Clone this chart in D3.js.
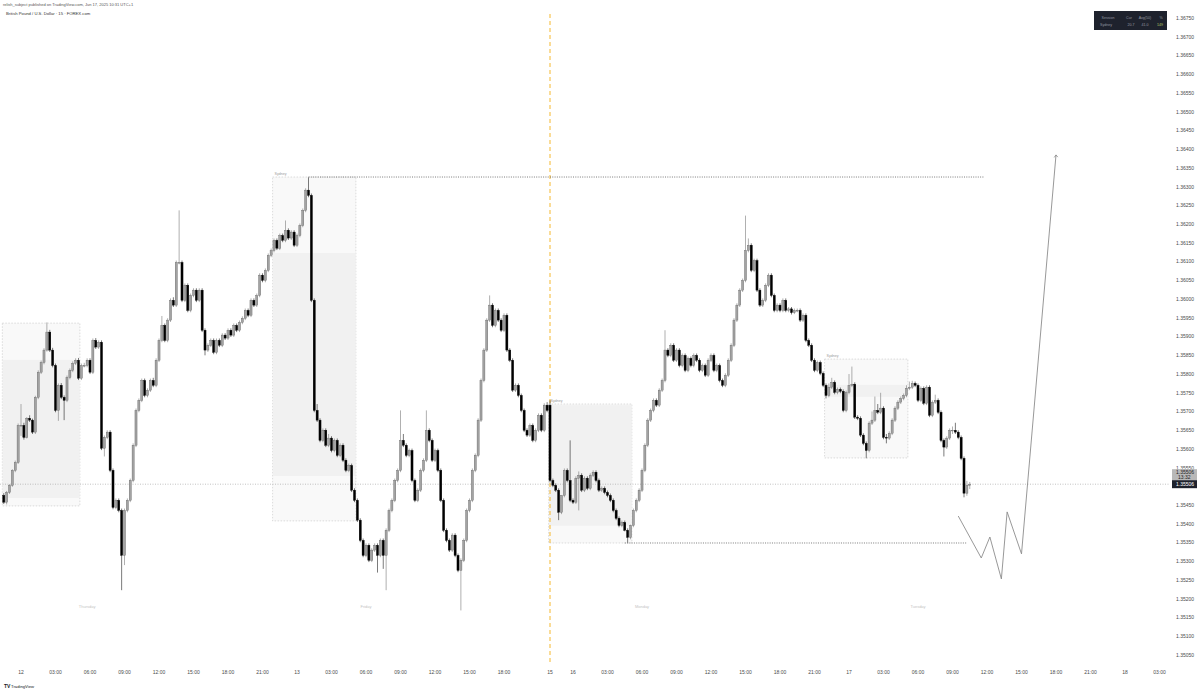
<!DOCTYPE html>
<html><head><meta charset="utf-8">
<script src="https://cdn.jsdelivr.net/npm/d3@7"></script>
<style>body{margin:0;background:#fff}svg{display:block}text{font-family:"Liberation Sans",Arial,sans-serif}</style>
</head><body><svg id="c" width="1200" height="692"></svg>
<script>
// ---------- DATA ----------
const title1 = "relish_subject published on TradingView.com, Jun 17, 2025 10:31 UTC+1";
const title2 = "British Pound / U.S. Dollar · 15 · FOREX.com";
const priceTicks = ["1.35050","1.35100","1.35150","1.35200","1.35250","1.35300","1.35350","1.35400","1.35450","1.35500","1.35550","1.35600","1.35650","1.35700","1.35750","1.35800","1.35850","1.35900","1.35950","1.36000","1.36050","1.36100","1.36150","1.36200","1.36250","1.36300","1.36350","1.36400","1.36450","1.36500","1.36550","1.36600","1.36650","1.36700","1.36750"];
const timeTickTimes = ["2025-06-12T00:00","2025-06-12T03:00","2025-06-12T06:00","2025-06-12T09:00","2025-06-12T12:00","2025-06-12T15:00","2025-06-12T18:00","2025-06-12T21:00","2025-06-13T00:00","2025-06-13T03:00","2025-06-13T06:00","2025-06-13T09:00","2025-06-13T12:00","2025-06-13T15:00","2025-06-13T18:00","2025-06-15T22:00","2025-06-16T00:00","2025-06-16T03:00","2025-06-16T06:00","2025-06-16T09:00","2025-06-16T12:00","2025-06-16T15:00","2025-06-16T18:00","2025-06-16T21:00","2025-06-17T00:00","2025-06-17T03:00","2025-06-17T06:00","2025-06-17T09:00","2025-06-17T12:00","2025-06-17T15:00","2025-06-17T18:00","2025-06-17T21:00","2025-06-18T00:00","2025-06-18T03:00"];
const timeTickLabels = ["12","03:00","06:00","09:00","12:00","15:00","18:00","21:00","13","03:00","06:00","09:00","12:00","15:00","18:00","15","16","03:00","06:00","09:00","12:00","15:00","18:00","21:00","17","03:00","06:00","09:00","12:00","15:00","18:00","21:00","18","03:00"];
const dayLabels = ["Thursday","Friday","Monday","Tuesday"];
const dayLabelTimes = ["2025-06-12T05:45","2025-06-13T06:00","2025-06-16T06:00","2025-06-17T06:00"];

// 15-minute candles [open, high, low, close]
const firstBarA = "2025-06-11T22:30"; // Thu 12 – Fri 13
const candlesA = [
[1.35476,1.35482,1.35453,1.35458],[1.35458,1.35488,1.35452,1.35484],[1.35484,1.35506,1.35480,1.35503],[1.35503,1.35546,1.35499,1.35543],[1.35543,1.35569,1.35538,1.35564],
[1.35564,1.35668,1.35560,1.35663],[1.35663,1.35720,1.35635,1.35663],[1.35663,1.35670,1.35625,1.35631],[1.35631,1.35685,1.35628,1.35682],[1.35682,1.35690,1.35672,1.35677],
[1.35677,1.35681,1.35640,1.35645],[1.35645,1.35742,1.35640,1.35738],[1.35738,1.35810,1.35733,1.35805],[1.35805,1.35836,1.35800,1.35831],[1.35831,1.35869,1.35826,1.35864],
[1.35864,1.35938,1.35860,1.35912],[1.35912,1.35918,1.35859,1.35864],[1.35864,1.35870,1.35818,1.35823],[1.35823,1.35828,1.35698,1.35703],[1.35703,1.35775,1.35675,1.35770],
[1.35770,1.35776,1.35733,1.35738],[1.35738,1.35743,1.35677,1.35730],[1.35730,1.35796,1.35725,1.35791],[1.35791,1.35815,1.35786,1.35810],[1.35810,1.35834,1.35805,1.35829],
[1.35829,1.35842,1.35824,1.35837],[1.35837,1.35843,1.35784,1.35789],[1.35789,1.35828,1.35784,1.35823],[1.35823,1.35830,1.35818,1.35823],[1.35823,1.35842,1.35818,1.35837],
[1.35837,1.35842,1.35800,1.35805],[1.35805,1.35895,1.35800,1.35890],[1.35890,1.35896,1.35867,1.35872],[1.35872,1.35890,1.35867,1.35885],[1.35885,1.35890,1.35597,1.35602],
[1.35602,1.35636,1.35580,1.35631],[1.35631,1.35650,1.35626,1.35645],[1.35645,1.35650,1.35538,1.35543],[1.35543,1.35548,1.35439,1.35444],[1.35444,1.35468,1.35439,1.35463],
[1.35463,1.35468,1.35431,1.35436],[1.35436,1.35441,1.35223,1.35316],[1.35316,1.35441,1.35290,1.35436],[1.35436,1.35468,1.35431,1.35463],[1.35463,1.35521,1.35458,1.35516],
[1.35516,1.35615,1.35511,1.35610],[1.35610,1.35708,1.35605,1.35703],[1.35703,1.35735,1.35698,1.35730],[1.35730,1.35788,1.35725,1.35783],[1.35783,1.35788,1.35738,1.35743],
[1.35743,1.35762,1.35738,1.35757],[1.35757,1.35788,1.35752,1.35783],[1.35783,1.35790,1.35765,1.35770],[1.35770,1.35842,1.35765,1.35837],[1.35837,1.35895,1.35832,1.35890],
[1.35890,1.35955,1.35885,1.35930],[1.35930,1.35935,1.35885,1.35890],[1.35890,1.35949,1.35885,1.35944],[1.35944,1.36002,1.35939,1.35997],[1.35997,1.36005,1.35979,1.35984],
[1.35984,1.36103,1.35979,1.36098],[1.36098,1.36237,1.36093,1.36098],[1.36098,1.36103,1.35992,1.35997],[1.35997,1.36042,1.35992,1.36037],[1.36037,1.36042,1.35965,1.35970],
[1.35970,1.36015,1.35965,1.36010],[1.36010,1.36029,1.36005,1.36024],[1.36024,1.36029,1.35992,1.35997],[1.35997,1.36029,1.35992,1.36024],[1.36024,1.36029,1.35912,1.35917],
[1.35917,1.35922,1.35850,1.35864],[1.35864,1.35882,1.35859,1.35877],[1.35877,1.35895,1.35872,1.35890],[1.35890,1.35895,1.35853,1.35858],[1.35858,1.35895,1.35853,1.35890],
[1.35890,1.35895,1.35872,1.35877],[1.35877,1.35909,1.35872,1.35904],[1.35904,1.35909,1.35891,1.35896],[1.35896,1.35922,1.35891,1.35917],[1.35917,1.35922,1.35899,1.35904],
[1.35904,1.35935,1.35899,1.35930],[1.35930,1.35935,1.35912,1.35917],[1.35917,1.35943,1.35912,1.35938],[1.35938,1.35954,1.35933,1.35949],[1.35949,1.35975,1.35944,1.35970],
[1.35970,1.35975,1.35952,1.35957],[1.35957,1.36002,1.35952,1.35997],[1.35997,1.36002,1.35979,1.35984],[1.35984,1.36015,1.35979,1.36010],[1.36010,1.36069,1.36005,1.36064],
[1.36064,1.36069,1.36045,1.36050],[1.36050,1.36082,1.36045,1.36077],[1.36077,1.36122,1.36072,1.36117],[1.36117,1.36135,1.36112,1.36130],[1.36130,1.36162,1.36125,1.36157],
[1.36157,1.36162,1.36131,1.36136],[1.36136,1.36175,1.36131,1.36170],[1.36170,1.36175,1.36152,1.36157],[1.36157,1.36210,1.36152,1.36184],[1.36184,1.36189,1.36158,1.36163],
[1.36163,1.36184,1.36158,1.36179],[1.36179,1.36184,1.36139,1.36144],[1.36144,1.36175,1.36139,1.36170],[1.36170,1.36202,1.36165,1.36197],[1.36197,1.36242,1.36192,1.36237],
[1.36237,1.36296,1.36232,1.36291],[1.36291,1.36325,1.36272,1.36277],[1.36277,1.36282,1.35992,1.35997],[1.35997,1.36002,1.35698,1.35703],[1.35703,1.35720,1.35672,1.35677],
[1.35677,1.35682,1.35618,1.35623],[1.35623,1.35655,1.35618,1.35650],[1.35650,1.35655,1.35605,1.35610],[1.35610,1.35640,1.35605,1.35629],[1.35629,1.35634,1.35591,1.35596],
[1.35596,1.35628,1.35591,1.35623],[1.35623,1.35628,1.35578,1.35583],[1.35583,1.35615,1.35578,1.35610],[1.35610,1.35615,1.35565,1.35570],[1.35570,1.35575,1.35538,1.35543],
[1.35543,1.35561,1.35538,1.35556],[1.35556,1.35561,1.35485,1.35490],[1.35490,1.35495,1.35458,1.35463],[1.35463,1.35468,1.35405,1.35410],[1.35410,1.35415,1.35351,1.35356],
[1.35356,1.35361,1.35311,1.35316],[1.35316,1.35348,1.35311,1.35343],[1.35343,1.35348,1.35298,1.35303],[1.35303,1.35335,1.35298,1.35330],[1.35330,1.35348,1.35325,1.35343],
[1.35343,1.35348,1.35270,1.35316],[1.35316,1.35361,1.35311,1.35356],[1.35356,1.35361,1.35280,1.35316],[1.35316,1.35388,1.35223,1.35383],[1.35383,1.35441,1.35378,1.35436],
[1.35436,1.35468,1.35431,1.35463],[1.35463,1.35521,1.35458,1.35516],[1.35516,1.35548,1.35511,1.35543],[1.35543,1.35703,1.35538,1.35623],[1.35623,1.35640,1.35605,1.35610],
[1.35610,1.35615,1.35578,1.35583],[1.35583,1.35601,1.35578,1.35596],[1.35596,1.35601,1.35511,1.35516],[1.35516,1.35521,1.35458,1.35463],[1.35463,1.35495,1.35458,1.35490],
[1.35490,1.35548,1.35485,1.35543],[1.35543,1.35575,1.35538,1.35570],[1.35570,1.35703,1.35565,1.35650],[1.35650,1.35655,1.35618,1.35623],[1.35623,1.35628,1.35565,1.35570],
[1.35570,1.35601,1.35565,1.35596],[1.35596,1.35601,1.35538,1.35543],[1.35543,1.35548,1.35458,1.35463],[1.35463,1.35468,1.35378,1.35383],[1.35383,1.35388,1.35351,1.35356],
[1.35356,1.35361,1.35325,1.35330],[1.35330,1.35375,1.35325,1.35370],[1.35370,1.35375,1.35311,1.35316],[1.35316,1.35321,1.35271,1.35276],[1.35276,1.35308,1.35169,1.35303],
[1.35303,1.35361,1.35298,1.35356],[1.35356,1.35441,1.35351,1.35436],[1.35436,1.35468,1.35431,1.35463],[1.35463,1.35548,1.35458,1.35543],[1.35543,1.35588,1.35538,1.35583],
[1.35583,1.35682,1.35578,1.35677],[1.35677,1.35788,1.35672,1.35783],[1.35783,1.35869,1.35778,1.35864],[1.35864,1.35949,1.35859,1.35944],[1.35944,1.36010,1.35939,1.35984],
[1.35984,1.35989,1.35925,1.35930],[1.35930,1.35975,1.35925,1.35970],[1.35970,1.35975,1.35939,1.35944],[1.35944,1.35949,1.35912,1.35917],[1.35917,1.35962,1.35912,1.35957],
[1.35957,1.35962,1.35859,1.35864],[1.35864,1.35869,1.35832,1.35837],[1.35837,1.35842,1.35752,1.35757],[1.35757,1.35775,1.35752,1.35770],[1.35770,1.35775,1.35738,1.35743],
[1.35743,1.35748,1.35698,1.35703],[1.35703,1.35708,1.35645,1.35650],[1.35650,1.35655,1.35632,1.35637],[1.35637,1.35668,1.35632,1.35663],[1.35663,1.35668,1.35618,1.35623],
[1.35623,1.35655,1.35618,1.35650],[1.35650,1.35695,1.35645,1.35690],[1.35690,1.35695,1.35645,1.35650],[1.35650,1.35722,1.35645,1.35717],[1.35717,1.35725,1.35698,1.35703]
];
const firstBarB = "2025-06-15T22:00"; // Mon 16 – Tue 17
const candlesB = [
[1.35717,1.35730,1.35511,1.35516],[1.35516,1.35521,1.35498,1.35503],[1.35503,1.35508,1.35485,1.35490],[1.35490,1.35495,1.35410,1.35431],[1.35431,1.35476,1.35426,1.35476],
[1.35476,1.35548,1.35471,1.35543],[1.35543,1.35548,1.35511,1.35516],[1.35516,1.35623,1.35458,1.35463],[1.35463,1.35468,1.35453,1.35458],[1.35458,1.35527,1.35453,1.35522],
[1.35522,1.35540,1.35436,1.35530],[1.35530,1.35535,1.35485,1.35490],[1.35490,1.35527,1.35485,1.35522],[1.35522,1.35527,1.35490,1.35495],[1.35495,1.35535,1.35490,1.35530],
[1.35530,1.35543,1.35525,1.35538],[1.35538,1.35543,1.35511,1.35516],[1.35516,1.35521,1.35485,1.35490],[1.35490,1.35500,1.35485,1.35495],[1.35495,1.35500,1.35479,1.35484],
[1.35484,1.35489,1.35471,1.35476],[1.35476,1.35481,1.35458,1.35463],[1.35463,1.35468,1.35431,1.35436],[1.35436,1.35441,1.35410,1.35415],[1.35415,1.35420,1.35391,1.35396],
[1.35396,1.35409,1.35391,1.35404],[1.35404,1.35409,1.35380,1.35383],[1.35383,1.35388,1.35350,1.35364],[1.35364,1.35398,1.35359,1.35396],[1.35396,1.35441,1.35391,1.35436],
[1.35436,1.35468,1.35431,1.35463],[1.35463,1.35495,1.35458,1.35490],[1.35490,1.35548,1.35485,1.35543],[1.35543,1.35615,1.35538,1.35610],[1.35610,1.35682,1.35605,1.35677],
[1.35677,1.35708,1.35672,1.35703],[1.35703,1.35735,1.35698,1.35730],[1.35730,1.35735,1.35712,1.35717],[1.35717,1.35762,1.35712,1.35757],[1.35757,1.35788,1.35752,1.35783],
[1.35783,1.35917,1.35778,1.35864],[1.35864,1.35869,1.35845,1.35850],[1.35850,1.35882,1.35845,1.35877],[1.35877,1.35882,1.35832,1.35837],[1.35837,1.35869,1.35832,1.35864],
[1.35864,1.35869,1.35818,1.35823],[1.35823,1.35855,1.35818,1.35850],[1.35850,1.35855,1.35805,1.35810],[1.35810,1.35847,1.35805,1.35842],[1.35842,1.35847,1.35818,1.35823],
[1.35823,1.35855,1.35818,1.35850],[1.35850,1.35855,1.35832,1.35837],[1.35837,1.35842,1.35805,1.35810],[1.35810,1.35828,1.35805,1.35823],[1.35823,1.35828,1.35792,1.35797],
[1.35797,1.35842,1.35792,1.35837],[1.35837,1.35855,1.35832,1.35850],[1.35850,1.35855,1.35805,1.35810],[1.35810,1.35828,1.35805,1.35823],[1.35823,1.35828,1.35778,1.35783],
[1.35783,1.35788,1.35765,1.35770],[1.35770,1.35802,1.35765,1.35797],[1.35797,1.35842,1.35792,1.35837],[1.35837,1.35882,1.35832,1.35877],[1.35877,1.35949,1.35872,1.35944],
[1.35944,1.35989,1.35939,1.35984],[1.35984,1.36029,1.35979,1.36024],[1.36024,1.36055,1.36019,1.36050],[1.36050,1.36223,1.36045,1.36130],[1.36130,1.36162,1.36125,1.36144],
[1.36144,1.36149,1.36072,1.36077],[1.36077,1.36108,1.36072,1.36103],[1.36103,1.36108,1.36019,1.36024],[1.36024,1.36029,1.35979,1.35984],[1.35984,1.36002,1.35979,1.35997],
[1.35997,1.36042,1.35992,1.36037],[1.36037,1.36069,1.36032,1.36064],[1.36064,1.36069,1.36005,1.36010],[1.36010,1.36015,1.35965,1.35970],[1.35970,1.35989,1.35965,1.35984],
[1.35984,1.35989,1.35965,1.35970],[1.35970,1.36002,1.35965,1.35997],[1.35997,1.36002,1.35965,1.35970],[1.35970,1.35979,1.35965,1.35974],[1.35974,1.35979,1.35959,1.35964],
[1.35964,1.35975,1.35960,1.35970],[1.35970,1.35975,1.35965,1.35970],[1.35970,1.35975,1.35939,1.35944],[1.35944,1.35962,1.35939,1.35957],[1.35957,1.35962,1.35885,1.35890],
[1.35890,1.35895,1.35872,1.35877],[1.35877,1.35882,1.35832,1.35837],[1.35837,1.35842,1.35805,1.35810],[1.35810,1.35836,1.35805,1.35831],[1.35831,1.35836,1.35797,1.35802],
[1.35802,1.35807,1.35765,1.35770],[1.35770,1.35775,1.35735,1.35743],[1.35743,1.35775,1.35738,1.35765],[1.35765,1.35790,1.35760,1.35778],[1.35778,1.35783,1.35746,1.35751],
[1.35751,1.35764,1.35746,1.35759],[1.35759,1.35764,1.35749,1.35754],[1.35754,1.35759,1.35698,1.35703],[1.35703,1.35756,1.35698,1.35751],[1.35751,1.35800,1.35746,1.35770],
[1.35770,1.35820,1.35765,1.35773],[1.35773,1.35778,1.35680,1.35685],[1.35685,1.35690,1.35677,1.35682],[1.35682,1.35687,1.35632,1.35637],[1.35637,1.35642,1.35610,1.35615],
[1.35615,1.35620,1.35575,1.35596],[1.35596,1.35674,1.35591,1.35669],[1.35669,1.35700,1.35664,1.35677],[1.35677,1.35740,1.35672,1.35703],[1.35703,1.35720,1.35693,1.35698],
[1.35698,1.35750,1.35693,1.35709],[1.35709,1.35714,1.35626,1.35631],[1.35631,1.35640,1.35615,1.35629],[1.35629,1.35647,1.35624,1.35642],[1.35642,1.35682,1.35637,1.35677],
[1.35677,1.35714,1.35672,1.35709],[1.35709,1.35730,1.35704,1.35725],[1.35725,1.35740,1.35720,1.35735],[1.35735,1.35748,1.35730,1.35743],[1.35743,1.35770,1.35738,1.35762],
[1.35762,1.35780,1.35757,1.35765],[1.35765,1.35782,1.35760,1.35775],[1.35775,1.35780,1.35765,1.35770],[1.35770,1.35775,1.35725,1.35730],[1.35730,1.35767,1.35725,1.35762],
[1.35762,1.35767,1.35717,1.35722],[1.35722,1.35770,1.35717,1.35765],[1.35765,1.35770,1.35685,1.35690],[1.35690,1.35730,1.35685,1.35725],[1.35725,1.35745,1.35720,1.35730],
[1.35730,1.35735,1.35693,1.35698],[1.35698,1.35703,1.35618,1.35623],[1.35623,1.35628,1.35580,1.35605],[1.35605,1.35634,1.35600,1.35629],[1.35629,1.35655,1.35624,1.35650],
[1.35650,1.35660,1.35640,1.35650],[1.35650,1.35670,1.35640,1.35645],[1.35645,1.35650,1.35626,1.35631],[1.35631,1.35636,1.35570,1.35575],[1.35575,1.35580,1.35471,1.35482],
[1.35482,1.35515,1.35475,1.35503],[1.35503,1.35512,1.35493,1.35506]
];
const lastPrice = 1.35506;
const countdown = "13:32";

// Sydney session boxes
const boxStart = ["2025-06-11T22:30","2025-06-12T22:00","2025-06-15T22:00","2025-06-16T22:00"];
const boxEnd   = ["2025-06-12T05:00","2025-06-13T05:00","2025-06-16T05:00","2025-06-17T05:00"];
const boxHigh  = [1.35936,1.36326,1.35720,1.35840];
const boxLow   = [1.35448,1.35408,1.35349,1.35576];
const boxOpen  = [1.35469,1.36123,1.35717,1.35771];
const boxClose = [1.35838,1.35528,1.35395,1.35739];
const boxLabel = ["","Sydney","Sydney","Sydney"];

// horizontal dotted levels
const levelPrice = [1.36326,1.35349];
const levelFrom  = ["2025-06-13T01:00","2025-06-16T04:30"];
const levelTo    = ["2025-06-17T11:45","2025-06-17T10:15"];

// projected path
const pathTimes  = ["2025-06-17T09:30","2025-06-17T11:30","2025-06-17T12:15","2025-06-17T13:15","2025-06-17T13:45","2025-06-17T15:00","2025-06-17T18:00"];
const pathPrices = [1.35421,1.35309,1.35365,1.35253,1.35432,1.35320,1.36385];

const sessionBreak = "2025-06-15T22:00";

const tableHeader = ["Session","Cur","Avg(50)","%"];
const tableRow = ["Sydney","20.7","41.0","149"];

// ---------- HELPERS ----------
function hoursOf(s){
  const [d,t]=s.split("T"); const [Y,M,D]=d.split("-").map(Number); const [hh,mm]=t.split(":").map(Number);
  let h=(Date.UTC(Y,M-1,D,hh,mm)-Date.UTC(2025,5,12,0,0))/3.6e6;
  if(h>=94) h-=48; // weekend gap removed
  return h;
}
const x = d3.scaleLinear().domain([0,96]).range([21,1125]);
const y = d3.scaleLinear().domain([1.3505,1.3675]).range([655,18.2]);
const X = s=>x(hoursOf(s));

const svg=d3.select("#c");
svg.append("rect").attr("width",1200).attr("height",692).attr("fill","#ffffff");

// ---------- session boxes ----------
const gBox=svg.append("g");
boxStart.forEach((s,i)=>{
  const x0=X(s)-1.4, x1=X(boxEnd[i])+1.4;
  gBox.append("rect").attr("x",x0).attr("y",y(boxHigh[i])).attr("width",x1-x0).attr("height",y(boxLow[i])-y(boxHigh[i]))
    .attr("fill","#f9f9f9").attr("stroke","#c4c4c4").attr("stroke-width",0.6).attr("stroke-dasharray","1.5,1.5");
  const t=Math.max(boxOpen[i],boxClose[i]), b=Math.min(boxOpen[i],boxClose[i]);
  gBox.append("rect").attr("x",x0+0.3).attr("y",y(t)).attr("width",x1-x0-0.6).attr("height",y(b)-y(t)).attr("fill","#f1f1f1");
  if(boxLabel[i]) gBox.append("text").attr("x",x0+2).attr("y",y(boxHigh[i])-2.5).attr("font-size",3.6).attr("fill","#9a9a9a").text(boxLabel[i]);
});

// session break
svg.append("line").attr("x1",X(sessionBreak)).attr("x2",X(sessionBreak)).attr("y1",14).attr("y2",662)
  .attr("stroke","#f5b82e").attr("stroke-width",1).attr("stroke-dasharray","4,3");

// day labels
dayLabels.forEach((d,i)=>svg.append("text").attr("x",X(dayLabelTimes[i])).attr("y",608).attr("text-anchor","middle")
  .attr("font-size",4).attr("fill","#c4c4c4").text(d));

// last price line
svg.append("line").attr("x1",0).attr("x2",1170).attr("y1",y(lastPrice)).attr("y2",y(lastPrice))
  .attr("stroke","#9a9a9a").attr("stroke-width",0.6).attr("stroke-dasharray","1,1.5");

// levels
levelPrice.forEach((p,i)=>svg.append("line").attr("x1",X(levelFrom[i])).attr("x2",X(levelTo[i])).attr("y1",y(p)).attr("y2",y(p))
  .attr("stroke","#444").attr("stroke-width",0.7).attr("stroke-dasharray","1,1.3"));

// ---------- candles ----------
function drawCandles(start,arr){
  const h0=hoursOf(start);
  const g=svg.append("g");
  arr.forEach((c,i)=>{
    const cx=x(h0+i*0.25); const [o,h,l,cl]=c; const up=cl>=o;
    g.append("line").attr("x1",cx).attr("x2",cx).attr("y1",y(h)).attr("y2",y(l)).attr("stroke",up?"#7a7a7a":"#222").attr("stroke-width",0.6);
    const top=y(Math.max(o,cl)), bot=y(Math.min(o,cl));
    g.append("rect").attr("x",cx-1.05).attr("y",top).attr("width",2.1).attr("height",Math.max(0.7,bot-top))
      .attr("fill",up?"#a3a3a3":"#000").attr("stroke",up?"#666":"#000").attr("stroke-width",0.4);
  });
}
drawCandles(firstBarA,candlesA);
drawCandles(firstBarB,candlesB);

// projection path
const pts=pathTimes.map((t,i)=>[X(t),y(pathPrices[i])]);
svg.append("path").attr("d",d3.line()(pts)).attr("fill","none").attr("stroke","#8c8c8c").attr("stroke-width",0.9);
const [ex,ey]=pts[pts.length-1];
svg.append("path").attr("d",`M${ex-1.8},${ey+2.5}L${ex},${ey}L${ex+1.8},${ey+2.2}`).attr("fill","none").attr("stroke","#8c8c8c").attr("stroke-width",0.8);

// ---------- axes ----------
const gy=svg.append("g");
priceTicks.forEach(t=>gy.append("text").attr("x",1176).attr("y",y(+t)+1.8).attr("font-size",5).attr("fill","#4a4a4a").text(t));
const gx=svg.append("g");
timeTickTimes.forEach((t,i)=>gx.append("text").attr("x",X(t)).attr("y",674).attr("text-anchor","middle").attr("font-size",5).attr("fill","#4a4a4a").text(timeTickLabels[i]));

// price labels
const yl=y(lastPrice);
svg.append("rect").attr("x",1172).attr("y",yl-15).attr("width",25).attr("height",11).attr("fill","#b8b8b8");
svg.append("text").attr("x",1176).attr("y",yl-10.5).attr("font-size",5).attr("fill","#222").text(lastPrice.toFixed(5));
svg.append("text").attr("x",1178).attr("y",yl-5.5).attr("font-size",5).attr("fill","#222").text(countdown);
svg.append("rect").attr("x",1172).attr("y",yl-4).attr("width",25).attr("height",8).attr("fill","#1e222d");
svg.append("text").attr("x",1176).attr("y",yl+1.8).attr("font-size",5).attr("fill","#fff").text(lastPrice.toFixed(5));

// header text
svg.append("text").attr("x",3).attr("y",6).attr("font-size",4).attr("fill","#555").text(title1);
svg.append("text").attr("x",6).attr("y",15).attr("font-size",4.2).attr("fill","#333").text(title2);

// table
svg.append("rect").attr("x",1094).attr("y",11).attr("width",73).attr("height",19).attr("fill","#1e222d");
const colX=[1108,1129,1145,1161];
tableHeader.forEach((t,i)=>svg.append("text").attr("x",colX[i]).attr("y",19).attr("text-anchor","middle").attr("font-size",3.6).attr("fill","#9598a1").text(t));
const rowX=[1106,1131,1145,1160];
tableRow.forEach((t,i)=>svg.append("text").attr("x",rowX[i]).attr("y",26).attr("text-anchor","middle").attr("font-size",3.6).attr("fill",i==3?"#b5c96a":"#9598a1").text(t));

// footer logo
svg.append("text").attr("x",4).attr("y",688).attr("font-size",5).attr("font-weight","bold").attr("fill","#131722").text("TV");
svg.append("text").attr("x",11).attr("y",688).attr("font-size",4.2).attr("fill","#131722").text("TradingView");
</script></body></html>
